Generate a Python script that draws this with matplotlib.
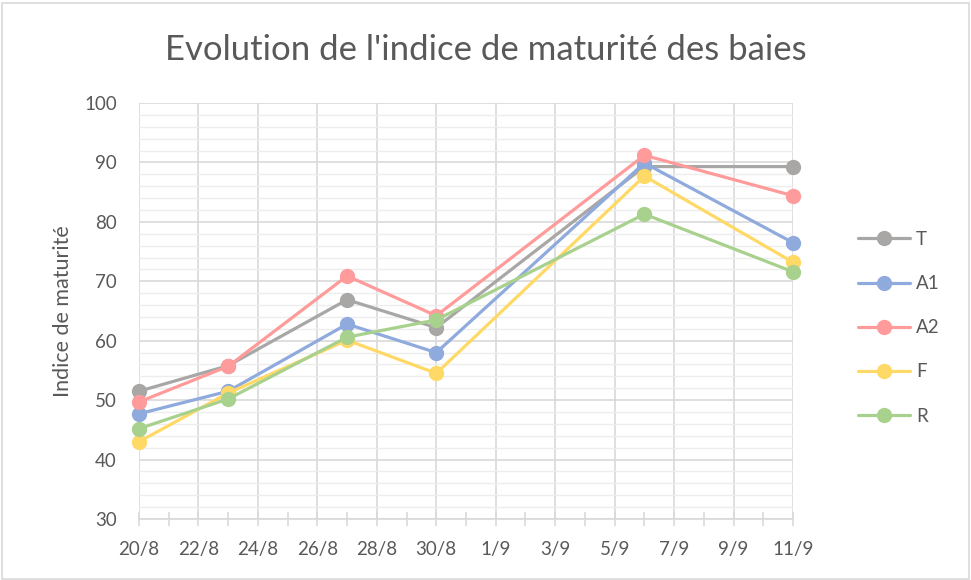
import datetime as dt
import matplotlib.pyplot as plt
import matplotlib.dates as mdates
from matplotlib.ticker import MultipleLocator, FuncFormatter
from matplotlib.patches import Rectangle

plt.rcParams['font.family'] = ['Lato', 'DejaVu Sans']

# sampling dates and maturity index per treatment
dates = [dt.date(2019, 8, 20), dt.date(2019, 8, 23), dt.date(2019, 8, 27),
         dt.date(2019, 8, 30), dt.date(2019, 9, 6), dt.date(2019, 9, 11)]
series_names = ["T", "A1", "A2", "F", "R"]
t_vals = [51.5, 55.8, 66.9, 62.2, 89.3, 89.3]
a1_vals = [47.7, 51.5, 62.8, 58.0, 89.9, 76.5]
a2_vals = [49.7, 55.7, 70.9, 64.2, 91.2, 84.4]
f_vals = [43.0, 51.2, 60.1, 54.5, 87.7, 73.2]
r_vals = [45.2, 50.2, 60.6, 63.5, 81.3, 71.6]
colors = ["#A9A6A6", "#8FAADC", "#FF9B9B", "#FFD966", "#A9D18E"]

text_col = "#595959"
grid_col = "#D9D9D9"

fig = plt.figure(figsize=(9.71, 5.80), dpi=100)
ax = fig.add_axes([139 / 971, 1 - 519 / 580, (793 - 139) / 971, (519 - 103) / 580])

for name, vals, col in zip(series_names, [t_vals, a1_vals, a2_vals, f_vals, r_vals], colors):
    ax.plot(dates, vals, color=col, lw=2.3, marker="o", ms=10, label=name,
            solid_capstyle="round", zorder=3, clip_on=False)

ax.set_xlim(dt.date(2019, 8, 20), dt.date(2019, 9, 11))
ax.set_ylim(30, 100)
ax.yaxis.set_major_locator(MultipleLocator(10))
ax.yaxis.set_minor_locator(MultipleLocator(2))
ax.xaxis.set_major_locator(mdates.DayLocator(interval=2))
ax.xaxis.set_minor_locator(mdates.DayLocator())
ax.xaxis.set_major_formatter(FuncFormatter(
    lambda x, pos: f"{mdates.num2date(x).day}/{mdates.num2date(x).month}"))

ax.grid(which="major", color=grid_col, lw=1.2, zorder=0)
ax.grid(which="minor", axis="y", color="#EDEDED", lw=1.0, zorder=0)
ax.set_axisbelow(True)

for side in ["top", "right", "left"]:
    ax.spines[side].set_visible(False)
ax.spines["bottom"].set_color(grid_col)
ax.spines["bottom"].set_linewidth(1.2)

ax.tick_params(axis="y", which="both", length=0, labelsize=13.5, labelcolor=text_col, pad=16)
ax.tick_params(axis="x", which="both", direction="inout", length=10, width=1.2,
               color=grid_col, labelsize=13.5, labelcolor=text_col, pad=11)

ax.set_ylabel("Indice de maturité", fontsize=15.5, color=text_col, labelpad=8)
fig.text(486 / 971, 1 - 50 / 580, "Evolution de l'indice de maturité des baies",
         ha="center", va="center", fontsize=25, color=text_col)

leg = ax.legend(loc="upper left", bbox_to_anchor=(841 / 971, 1 - 214 / 580),
                bbox_transform=fig.transFigure, frameon=False, fontsize=13.5,
                labelspacing=1.45, handlelength=2.8, handletextpad=0.3)
for txt in leg.get_texts():
    txt.set_color(text_col)

# light frame around the whole chart
fig.patches.append(Rectangle((0.002, 0.002), 0.996, 0.993, transform=fig.transFigure,
                             fill=False, edgecolor="#D9D9D9", lw=1.2))

fig.savefig("out.png", dpi=100)
